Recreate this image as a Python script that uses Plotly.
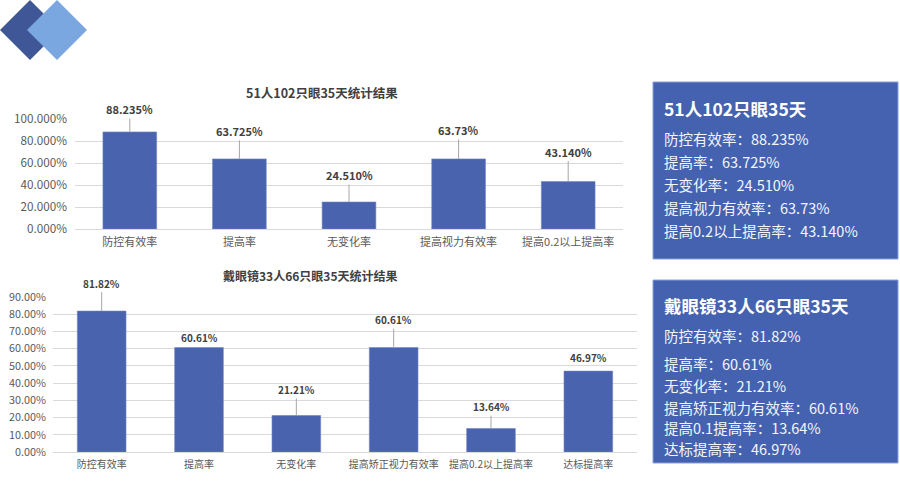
import plotly.graph_objects as go

# ---------------- data ----------------
top_title = "51人102只眼35天统计结果"
top_cats = ["防控有效率", "提高率", "无变化率", "提高视力有效率", "提高0.2以上提高率"]
top_vals = [0.88235, 0.63725, 0.24510, 0.6373, 0.43140]
top_labels = ["88.235%", "63.725%", "24.510%", "63.73%", "43.140%"]

bot_title = "戴眼镜33人66只眼35天统计结果"
bot_cats = ["防控有效率", "提高率", "无变化率", "提高矫正视力有效率", "提高0.2以上提高率", "达标提高率"]
bot_vals = [0.8182, 0.6061, 0.2121, 0.6061, 0.1364, 0.4697]
bot_labels = ["81.82%", "60.61%", "21.21%", "60.61%", "13.64%", "46.97%"]

box1_title = "51人102只眼35天"
box1_lines = ["防控有效率：88.235%", "提高率：63.725%", "无变化率：24.510%",
              "提高视力有效率：63.73%", "提高0.2以上提高率：43.140%"]
box2_title = "戴眼镜33人66只眼35天"
box2_lines = ["防控有效率：81.82%", "提高率：60.61%", "无变化率：21.21%",
              "提高矫正视力有效率：60.61%", "提高0.1提高率：13.64%", "达标提高率：46.97%"]

# label styling (pixel offsets of the data labels above the bars)
top_label_offsets = [-23, -28, -27, -29, -30]
bot_label_offsets = [-28, -10, -26, -28, -22, -14]
bot_label_leader = [True, False, True, True, True, False]

W, H = 900, 481
FONT = "Noto Sans CJK SC"
BAR = "#4a63ae"


def px(x):
    return x / W


def py(y):
    return 1 - y / H


fig = go.Figure()

fig.add_trace(go.Bar(x=top_cats, y=top_vals, xaxis="x", yaxis="y",
                     marker=dict(color=BAR, line=dict(color="#6f83c2", width=0.6)),
                     hoverinfo="skip"))
fig.add_trace(go.Bar(x=bot_cats, y=bot_vals, xaxis="x2", yaxis="y2", width=0.5,
                     marker=dict(color=BAR, line=dict(color="#6f83c2", width=0.6)),
                     hoverinfo="skip"))

annotations = []
for c, v, t, off in zip(top_cats, top_vals, top_labels, top_label_offsets):
    annotations.append(dict(x=c, y=v, xref="x", yref="y", text="<b>" + t + "</b>",
                            showarrow=True, arrowhead=0, arrowwidth=1, arrowcolor="#a6a6a6",
                            ax=0, ay=off, standoff=0,
                            font=dict(family=FONT, size=11, color="#404040")))
for c, v, t, off, lead in zip(bot_cats, bot_vals, bot_labels, bot_label_offsets, bot_label_leader):
    annotations.append(dict(x=c, y=v, xref="x2", yref="y2", text="<b>" + t + "</b>",
                            showarrow=True, arrowhead=0, arrowwidth=1,
                            arrowcolor="#a6a6a6" if lead else "rgba(0,0,0,0)",
                            ax=0, ay=off, standoff=0,
                            font=dict(family=FONT, size=10, color="#404040")))

# chart titles
annotations.append(dict(x=px(322), y=py(92), xref="paper", yref="paper", showarrow=False,
                        text="<b>" + top_title + "</b>", xanchor="center", yanchor="middle",
                        font=dict(family=FONT, size=12.5, color="#404040")))
annotations.append(dict(x=px(310), y=py(275), xref="paper", yref="paper", showarrow=False,
                        text="<b>" + bot_title + "</b>", xanchor="center", yanchor="middle",
                        font=dict(family=FONT, size=12, color="#404040")))

# side boxes text
annotations.append(dict(x=px(662), y=py(109), xref="paper", yref="paper", showarrow=False,
                        text="<b>" + box1_title + "</b>", xanchor="left", yanchor="middle",
                        font=dict(family=FONT, size=17.5, color="white")))
for i, line in enumerate(box1_lines):
    annotations.append(dict(x=px(662), y=py(138 + 23.2 * i), xref="paper", yref="paper",
                            showarrow=False, text=line, xanchor="left", yanchor="middle",
                            font=dict(family=FONT, size=14.5, color="#f4f6fb")))
annotations.append(dict(x=px(662), y=py(305), xref="paper", yref="paper", showarrow=False,
                        text="<b>" + box2_title + "</b>", xanchor="left", yanchor="middle",
                        font=dict(family=FONT, size=17.5, color="white")))
box2_y = [335, 363, 385, 407, 427, 448]
for yy, line in zip(box2_y, box2_lines):
    annotations.append(dict(x=px(662), y=py(yy), xref="paper", yref="paper",
                            showarrow=False, text=line, xanchor="left", yanchor="middle",
                            font=dict(family=FONT, size=14.5, color="#f4f6fb")))

shapes = [
    # side boxes
    dict(type="rect", xref="paper", yref="paper", x0=px(653), x1=px(898), y0=py(259), y1=py(82),
         fillcolor="#4462b0", line=dict(color="#8aa0d6", width=1), layer="below"),
    dict(type="rect", xref="paper", yref="paper", x0=px(653), x1=px(898), y0=py(463), y1=py(280),
         fillcolor="#4462b0", line=dict(color="#8aa0d6", width=1), layer="below"),
    # decorative diamonds
    dict(type="path", xref="paper", yref="paper",
         path=f"M {px(0)},{py(30)} L {px(30)},{py(0)} L {px(60)},{py(30)} L {px(30)},{py(60)} Z",
         fillcolor="#3f5796", line=dict(width=0)),
    dict(type="path", xref="paper", yref="paper",
         path=f"M {px(27)},{py(30)} L {px(57)},{py(0)} L {px(87)},{py(30)} L {px(57)},{py(60)} Z",
         fillcolor="#7aa7e0", line=dict(width=0)),
]

axis_font = dict(family=FONT, size=11, color="#595959")
fig.update_layout(
    width=W, height=H,
    margin=dict(l=0, r=0, t=0, b=0, pad=0, autoexpand=False),
    paper_bgcolor="white", plot_bgcolor="white",
    showlegend=False,
    bargap=0.51,
    xaxis=dict(domain=[px(75), px(623)], anchor="y", type="category", automargin=False,
               showgrid=False, showline=True, linecolor="#d9d9d9", ticks="",
               tickfont=axis_font, ticklabelstandoff=3),
    yaxis=dict(domain=[py(229), py(119)], anchor="x", range=[0, 1.0], dtick=0.2, automargin=False,
               tickformat=".3%", showgrid=True, gridcolor="#d9d9d9", zeroline=False,
               showline=False, ticks="", tickfont=dict(family=FONT, size=11.7, color="#595959"),
               ticklabelstandoff=7),
    xaxis2=dict(domain=[px(53), px(637)], anchor="y2", type="category", automargin=False,
                showgrid=False, showline=True, linecolor="#d9d9d9", ticks="",
                tickfont=dict(family=FONT, size=10, color="#595959"), ticklabelstandoff=3),
    yaxis2=dict(domain=[py(452), py(297)], anchor="x2", range=[0, 0.9], dtick=0.1, automargin=False,
                tickformat=".2%", showgrid=True, gridcolor="#d9d9d9", zeroline=False,
                showline=False, ticks="", tickfont=dict(family=FONT, size=10.8, color="#595959"),
                ticklabelstandoff=6),
    annotations=annotations,
    shapes=shapes,
)

fig.write_html("out.html")
